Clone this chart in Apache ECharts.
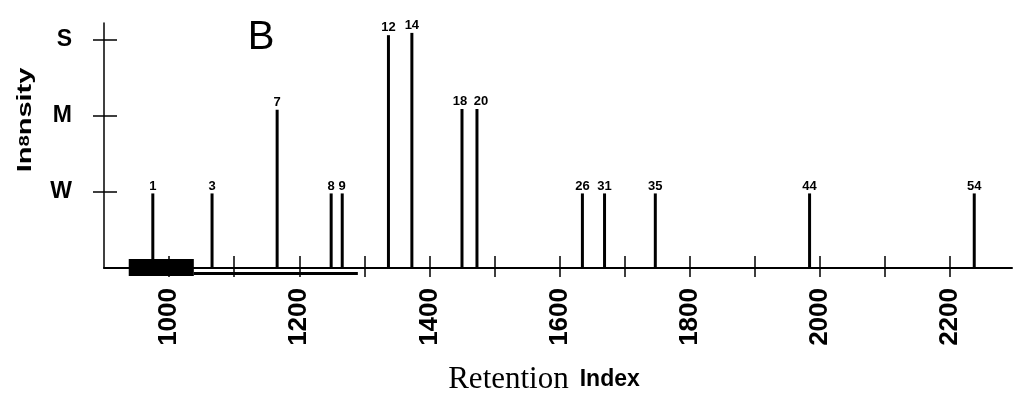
<!DOCTYPE html>
<html>
<head>
<meta charset="utf-8">
<script src="https://cdn.jsdelivr.net/npm/echarts@6/dist/echarts.min.js"></script>
<style>
html,body{margin:0;padding:0;background:#fff;}
#chart{width:1021px;height:402px;}
</style>
</head>
<body>
<div id="chart"></div>
<script>
// ---- data ----
const peakNames = ['1','3','7','8','9','12','14','18','20','26','31','35','44','54'];
const retentionIndex = [975,1066,1166,1249,1266,1337,1373,1450,1473,1635,1669,1747,1984,2237];
const intensity = [0.98,0.98,2.08,0.98,0.98,3.06,3.09,2.09,2.09,0.98,0.98,0.98,0.98,0.98];
const xTickValues = [1000,1100,1200,1300,1400,1500,1600,1700,1800,1900,2000,2100,2200];
const xLabelValues = [1000,1200,1400,1600,1800,2000,2200];
const yTickValues = [1,2,3];
const yTickLabels = {1:'W', 2:'M', 3:'S'};
// scan artefacts (data units): [x0, x1, y0, y1]
const boxArtifact = [938, 1038, -0.105, 0.118];
const lineArtifact = [1038, 1290, -0.092, -0.053];

const X_MIN = 900, X_MAX = 2295, Y_MIN = 0, Y_MAX = 3.22;
const sans = "'Liberation Sans',Arial,Helvetica,sans-serif";

const chart = echarts.init(document.getElementById('chart'), null, {renderer:'canvas'});
// label nudges for crowded pairs (style only)
const labelNudge = {'18':[-2,0], '20':[4,0]};
const data = retentionIndex.map((x,i)=>{
  const item = {value:[x, intensity[i]]};
  if (labelNudge[peakNames[i]]) item.label = {offset:labelNudge[peakNames[i]]};
  return item;
});

chart.setOption({
  animation:false,
  backgroundColor:'#fff',
  grid:{left:104, right:9, top:23, bottom:134, containLabel:false, outerBoundsMode:'none'},
  xAxis:[{
    type:'value', min:X_MIN, max:X_MAX, position:'bottom',
    splitLine:{show:false},
    axisLine:{show:true, onZero:false, lineStyle:{color:'#000', width:2}},
    axisTick:{show:true, inside:false, length:9, customValues:xTickValues, lineStyle:{color:'#000', width:1.5}},
    axisLabel:{show:true, customValues:xLabelValues, rotate:90, margin:20, color:'#000',
      fontFamily:sans, fontWeight:'bold', fontSize:26,
      formatter:(v)=>String(v)},
    name:'{r|Retention}{s| }{i|Index}',
    nameLocation:'middle', nameGap:96,
    nameTextStyle:{padding:[0,28,0,0], color:'#000',
      rich:{
        r:{fontFamily:"'Liberation Serif','Times New Roman',serif", fontSize:31, color:'#000'},
        s:{fontSize:31, width:11},
        i:{fontFamily:sans, fontWeight:'bold', fontSize:23, color:'#000'}
      }}
  },{
    type:'value', min:X_MIN, max:X_MAX, position:'bottom',
    splitLine:{show:false},
    axisLine:{show:false},
    axisTick:{show:true, inside:true, length:12, customValues:xTickValues, lineStyle:{color:'#000', width:1.5}},
    axisLabel:{show:false}
  }],
  yAxis:[{
    type:'value', min:Y_MIN, max:Y_MAX, position:'left',
    splitLine:{show:false},
    axisLine:{show:true, onZero:false, lineStyle:{color:'#000', width:1.5}},
    axisTick:{show:true, inside:false, length:11, customValues:yTickValues, lineStyle:{color:'#000', width:1.5}},
    axisLabel:{show:true, customValues:yTickValues, margin:32, color:'#000',
      fontFamily:sans, fontWeight:'bold', fontSize:23,
      formatter:(v)=>yTickLabels[Math.round(v)] || ''}
  },{
    type:'value', min:Y_MIN, max:Y_MAX, position:'left',
    splitLine:{show:false},
    axisLine:{show:false},
    axisTick:{show:true, inside:true, length:13, customValues:yTickValues, lineStyle:{color:'#000', width:1.5}},
    axisLabel:{show:false}
  }],
  series:[{
    type:'bar', xAxisIndex:0, yAxisIndex:0,
    data:data, barWidth:3,
    itemStyle:{color:'#000'},
    label:{show:true, position:'top', distance:1, color:'#000',
      fontFamily:sans, fontWeight:'bold', fontSize:13,
      formatter:(p)=>peakNames[p.dataIndex]}
  }]
});

function px(x,y){ return chart.convertToPixel({xAxisIndex:0, yAxisIndex:0}, [x,y]); }
function rectFrom(a){
  const p0 = px(a[0], a[3]); const p1 = px(a[1], a[2]);
  return {x:p0[0], y:p0[1], width:p1[0]-p0[0], height:p1[1]-p0[1]};
}
chart.setOption({
  graphic:[
    {type:'rect', shape:rectFrom(boxArtifact), style:{fill:'#000'}, z:100},
    {type:'rect', shape:rectFrom(lineArtifact), style:{fill:'#000'}, z:100},
    {type:'text', x:261, y:38, z:100,
      style:{text:'B', font:"normal 40px 'Liberation Sans',Arial,sans-serif", fill:'#000', align:'center', verticalAlign:'middle'}},
    {type:'text', x:25, y:120, rotation:Math.PI/2, scaleX:1.45, z:100,
      style:{text:'{a|In}{b|8}{a|nsity}', align:'center', verticalAlign:'middle', fill:'#000',
        rich:{a:{font:"bold 20px 'Liberation Sans',Arial,sans-serif", fill:'#000'},
              b:{font:"bold 14px 'Liberation Sans',Arial,sans-serif", fill:'#000'}}}}
  ]
});
</script>
</body>
</html>
